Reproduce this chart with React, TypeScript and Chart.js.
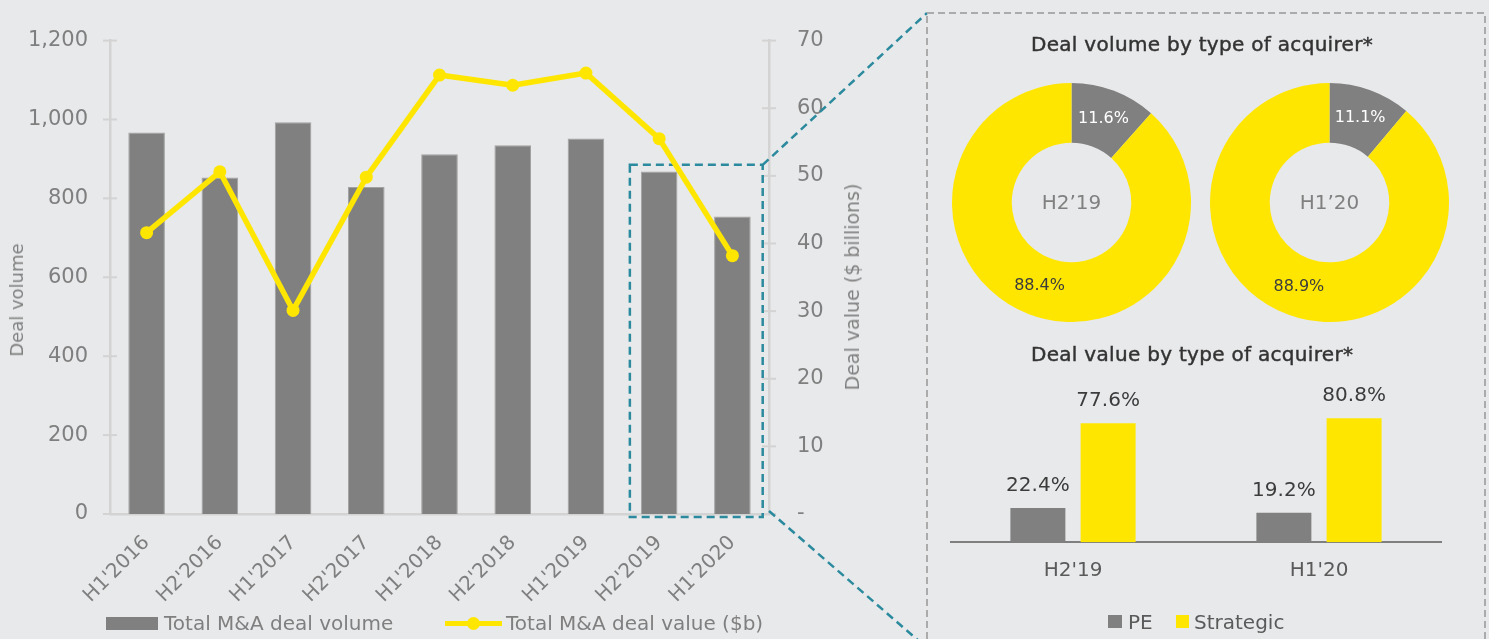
import React, { useEffect, useRef } from "react";
import { Chart, registerables } from "chart.js";

Chart.register(...registerables);

// ---------------- data ----------------
const periods = ["H1'2016", "H2'2016", "H1'2017", "H2'2017", "H1'2018", "H2'2018", "H1'2019", "H2'2019", "H1'2020"];
const dealVolume = [967, 853, 993, 829, 912, 935, 952, 868, 754];
const dealValueBn = [41.6, 50.6, 30.1, 49.8, 64.9, 63.4, 65.2, 55.5, 38.2];
const volumeAxisMax = 1200;
const volumeAxisStep = 200;
const valueAxisMax = 70;
const valueAxisStep = 10;

const acquirerTypes = ["PE", "Strategic"];
const donutPeriods = ["H2\u201919", "H1\u201920"];
const volumeShareH219 = [11.6, 88.4];
const volumeShareH120 = [11.1, 88.9];

const valuePeriods = ["H2'19", "H1'20"];
const peValueShare = [22.4, 19.2];
const strategicValueShare = [77.6, 80.8];

// ---------------- style ----------------
const YELLOW = "#FFE600";
const GRAY = "#808080";
const BG = "#E8E9EB";
const TEAL = "#2B8A9D";
const AXIS = "#D3D3D3";
const TICK = "#7F7F7F";
const DARK = "#3C3C3C";
const FONT = "'DejaVu Sans', 'Noto Sans', sans-serif";

const W = 1489;
const H = 639;
const PANEL = { left: 927, top: 13, right: 1485, bottom: 648 };
const HIGHLIGHT_FROM = 7;
const HIGHLIGHT_TOP_VALUE = 885;

const mainDecor = {
  id: "mainDecor",
  beforeDatasetsDraw(chart: any) {
    const { ctx, chartArea, scales } = chart;
    const meta = chart.getDatasetMeta(1);
    const first = meta.data[HIGHLIGHT_FROM];
    const last = meta.data[meta.data.length - 1];
    const l = first.x - first.width / 2 - 11;
    const r = last.x + last.width / 2 + 12;
    const t = scales.y.getPixelForValue(HIGHLIGHT_TOP_VALUE);
    const b = chartArea.bottom + 3;
    ctx.save();
    // crossing tick marks
    ctx.strokeStyle = AXIS;
    ctx.lineWidth = 2;
    ctx.setLineDash([]);
    for (const tk of scales.y.ticks) {
      const py = scales.y.getPixelForValue(tk.value);
      ctx.beginPath();
      ctx.moveTo(chartArea.left - 7, py);
      ctx.lineTo(chartArea.left + 7, py);
      ctx.stroke();
    }
    for (const tk of scales.y1.ticks) {
      const py = scales.y1.getPixelForValue(tk.value);
      ctx.beginPath();
      ctx.moveTo(chartArea.right - 7, py);
      ctx.lineTo(chartArea.right + 7, py);
      ctx.stroke();
    }
    // highlight box + connectors
    ctx.strokeStyle = TEAL;
    ctx.lineWidth = 2.5;
    ctx.setLineDash([8, 5]);
    ctx.strokeRect(l, t, r - l, b - t);
    ctx.beginPath();
    ctx.moveTo(r, t);
    ctx.lineTo(PANEL.left, PANEL.top);
    ctx.stroke();
    ctx.beginPath();
    ctx.moveTo(chartArea.right, chartArea.bottom - 3);
    ctx.lineTo(PANEL.left, PANEL.bottom);
    ctx.stroke();
    // panel frame
    ctx.strokeStyle = "#ABABAB";
    ctx.lineWidth = 2;
    ctx.setLineDash([7, 4]);
    ctx.strokeRect(PANEL.left, PANEL.top, PANEL.right - PANEL.left, PANEL.bottom - PANEL.top);
    ctx.restore();
  },
};

function MainChart() {
  const ref = useRef<HTMLCanvasElement>(null);
  useEffect(() => {
    const chart = new Chart(ref.current as HTMLCanvasElement, {
      type: "bar",
      data: {
        labels: periods,
        datasets: [
          {
            type: "line",
            label: "Total M&A deal value ($b)",
            data: dealValueBn,
            yAxisID: "y1",
            borderColor: YELLOW,
            backgroundColor: YELLOW,
            borderWidth: 5.5,
            borderJoinStyle: "round",
            pointRadius: 6.5,
            pointBackgroundColor: YELLOW,
            pointBorderWidth: 0,
            tension: 0,
            order: 0,
          } as any,
          {
            type: "bar",
            label: "Total M&A deal volume",
            data: dealVolume,
            yAxisID: "y",
            backgroundColor: GRAY,
            borderColor: "#A2A2A2",
            borderWidth: 1,
            barPercentage: 0.5,
            categoryPercentage: 1,
            order: 1,
          } as any,
        ],
      },
      options: {
        responsive: false,
        animation: false,
        layout: { padding: { left: 0, top: 38, right: 623, bottom: 0 } },
        plugins: { legend: { display: false }, tooltip: { enabled: false } },
        scales: {
          x: {
            grid: { display: false, drawTicks: false },
            border: { color: AXIS, width: 2.5 },
            ticks: {
              color: TICK,
              font: { family: FONT, size: 20 },
              maxRotation: 45,
              minRotation: 45,
              padding: 17,
              autoSkip: false,
            },
            afterFit: (s: any) => {
              s.height = 125;
            },
          },
          y: {
            position: "left",
            min: 0,
            max: volumeAxisMax,
            grid: { display: false, drawTicks: false },
            border: { color: AXIS, width: 2.5 },
            ticks: {
              stepSize: volumeAxisStep,
              color: TICK,
              padding: 22,
              font: { family: FONT, size: 21 },
              callback: (v: any) => Number(v).toLocaleString("en-US"),
            },
            afterFit: (s: any) => {
              s.width = 110;
            },
          },
          y1: {
            position: "right",
            min: 0,
            max: valueAxisMax,
            grid: { display: false, drawTicks: false },
            border: { color: AXIS, width: 2.5 },
            ticks: {
              stepSize: valueAxisStep,
              color: TICK,
              padding: 28,
              font: { family: FONT, size: 21 },
              callback: (v: any) => (Number(v) === 0 ? "-" : String(v)),
            },
            afterFit: (s: any) => {
              s.width = 97;
            },
          },
        },
      } as any,
      plugins: [mainDecor],
    });
    return () => chart.destroy();
  }, []);
  return (
    <canvas
      ref={ref}
      width={W}
      height={H}
      style={{ position: "absolute", left: 0, top: 0, width: W, height: H }}
    />
  );
}

function Donut({ values, center, left, top }: { values: number[]; center: string; left: number; top: number }) {
  const ref = useRef<HTMLCanvasElement>(null);
  useEffect(() => {
    const labelsPlugin = {
      id: "donutLabels",
      afterDatasetsDraw(chart: any) {
        const { ctx, chartArea } = chart;
        const meta = chart.getDatasetMeta(0);
        ctx.save();
        ctx.textAlign = "center";
        ctx.textBaseline = "middle";
        ctx.font = `16px ${FONT}`;
        meta.data.forEach((arc: any, i: number) => {
          const p = arc.tooltipPosition();
          ctx.fillStyle = i === 0 ? "#FFFFFF" : DARK;
          ctx.fillText(`${values[i].toFixed(1)}%`, p.x, p.y);
        });
        ctx.font = `20px ${FONT}`;
        ctx.fillStyle = GRAY;
        ctx.fillText(center, (chartArea.left + chartArea.right) / 2, (chartArea.top + chartArea.bottom) / 2 + 1);
        ctx.restore();
      },
    };
    const chart = new Chart(ref.current as HTMLCanvasElement, {
      type: "doughnut",
      data: {
        labels: acquirerTypes,
        datasets: [{ data: values, backgroundColor: [GRAY, YELLOW], borderWidth: 0 }],
      },
      options: {
        responsive: false,
        animation: false,
        cutout: "50%",
        layout: { padding: 0 },
        plugins: { legend: { display: false }, tooltip: { enabled: false } },
      } as any,
      plugins: [labelsPlugin],
    });
    return () => chart.destroy();
  }, []);
  return (
    <canvas
      ref={ref}
      width={239}
      height={239}
      style={{ position: "absolute", left, top, width: 239, height: 239 }}
    />
  );
}

function ValueBars() {
  const ref = useRef<HTMLCanvasElement>(null);
  useEffect(() => {
    const valueLabels = {
      id: "valueLabels",
      afterDatasetsDraw(chart: any) {
        const { ctx } = chart;
        ctx.save();
        ctx.textAlign = "center";
        ctx.textBaseline = "alphabetic";
        ctx.font = `20px ${FONT}`;
        ctx.fillStyle = DARK;
        chart.data.datasets.forEach((ds: any, di: number) => {
          const meta = chart.getDatasetMeta(di);
          meta.data.forEach((bar: any, i: number) => {
            ctx.fillText(`${Number(ds.data[i]).toFixed(1)}%`, bar.x, bar.y - 17);
          });
        });
        ctx.restore();
      },
    };
    const chart = new Chart(ref.current as HTMLCanvasElement, {
      type: "bar",
      data: {
        labels: valuePeriods,
        datasets: [
          { label: acquirerTypes[0], data: peValueShare, backgroundColor: GRAY, categoryPercentage: 0.571, barPercentage: 0.783 },
          { label: acquirerTypes[1], data: strategicValueShare, backgroundColor: YELLOW, categoryPercentage: 0.571, barPercentage: 0.783 },
        ],
      },
      options: {
        responsive: false,
        animation: false,
        layout: { padding: { left: 0, right: 0, top: 28.8, bottom: 0 } },
        plugins: { legend: { display: false }, tooltip: { enabled: false } },
        scales: {
          x: {
            grid: { display: false, drawTicks: false },
            border: { color: "#7F7F7F", width: 2 },
            ticks: { color: "#5A5A5A", font: { family: FONT, size: 20 }, padding: 16 },
            afterFit: (s: any) => {
              s.height = 57.7;
            },
          },
          y: { display: false, min: 0, max: 100 },
        },
      } as any,
      plugins: [valueLabels],
    });
    return () => chart.destroy();
  }, []);
  return (
    <canvas
      ref={ref}
      width={492}
      height={240}
      style={{ position: "absolute", left: 950, top: 360, width: 492, height: 240 }}
    />
  );
}

const textBase: React.CSSProperties = {
  position: "absolute",
  fontFamily: FONT,
  whiteSpace: "nowrap",
  lineHeight: "24px",
};

function AxisTitle({ text, x, y, size }: { text: string; x: number; y: number; size: number }) {
  return (
    <div
      style={{
        ...textBase,
        left: x,
        top: y,
        fontSize: size,
        color: GRAY,
        transform: "translate(-50%, -50%) rotate(-90deg)",
      }}
    >
      {text}
    </div>
  );
}

function PanelTitle({ text, top }: { text: string; top: number }) {
  return (
    <div
      style={{
        ...textBase,
        left: 1031,
        top,
        fontSize: 20,
        color: "#333333",
        letterSpacing: "0.3px",
        WebkitTextStroke: "0.45px #333333",
      }}
    >
      {text}
    </div>
  );
}

function MainLegend() {
  return (
    <>
      <div style={{ position: "absolute", left: 106, top: 617, width: 52, height: 13, background: GRAY }} />
      <div style={{ ...textBase, left: 164, top: 611, fontSize: 20, color: TICK }}>Total M&amp;A deal volume</div>
      <div style={{ position: "absolute", left: 445, top: 620.5, width: 57, height: 5, background: YELLOW }} />
      <div style={{ position: "absolute", left: 466.5, top: 616.5, width: 13, height: 13, borderRadius: "50%", background: YELLOW }} />
      <div style={{ ...textBase, left: 506, top: 611, fontSize: 20, color: TICK }}>Total M&amp;A deal value ($b)</div>
    </>
  );
}

function PanelLegend() {
  return (
    <>
      <div style={{ position: "absolute", left: 1108, top: 615, width: 14, height: 13, background: GRAY }} />
      <div style={{ ...textBase, left: 1128, top: 609.5, fontSize: 20, color: "#5A5A5A" }}>{acquirerTypes[0]}</div>
      <div style={{ position: "absolute", left: 1176, top: 615, width: 13, height: 13, background: YELLOW }} />
      <div style={{ ...textBase, left: 1194, top: 609.5, fontSize: 20, color: "#5A5A5A" }}>{acquirerTypes[1]}</div>
    </>
  );
}

export default function App() {
  return (
    <div
      style={{
        position: "absolute",
        left: 0,
        top: 0,
        width: W,
        height: H,
        background: BG,
        overflow: "hidden",
      }}
    >
      <MainChart />
      <AxisTitle text="Deal volume" x={17} y={300} size={18} />
      <AxisTitle text="Deal value ($ billions)" x={852} y={287} size={19} />
      <MainLegend />
      <PanelTitle text="Deal volume by type of acquirer*" top={32.4} />
      <Donut values={volumeShareH219} center={donutPeriods[0]} left={952} top={83} />
      <Donut values={volumeShareH120} center={donutPeriods[1]} left={1210} top={83} />
      <PanelTitle text="Deal value by type of acquirer*" top={342.4} />
      <ValueBars />
      <PanelLegend />
    </div>
  );
}
